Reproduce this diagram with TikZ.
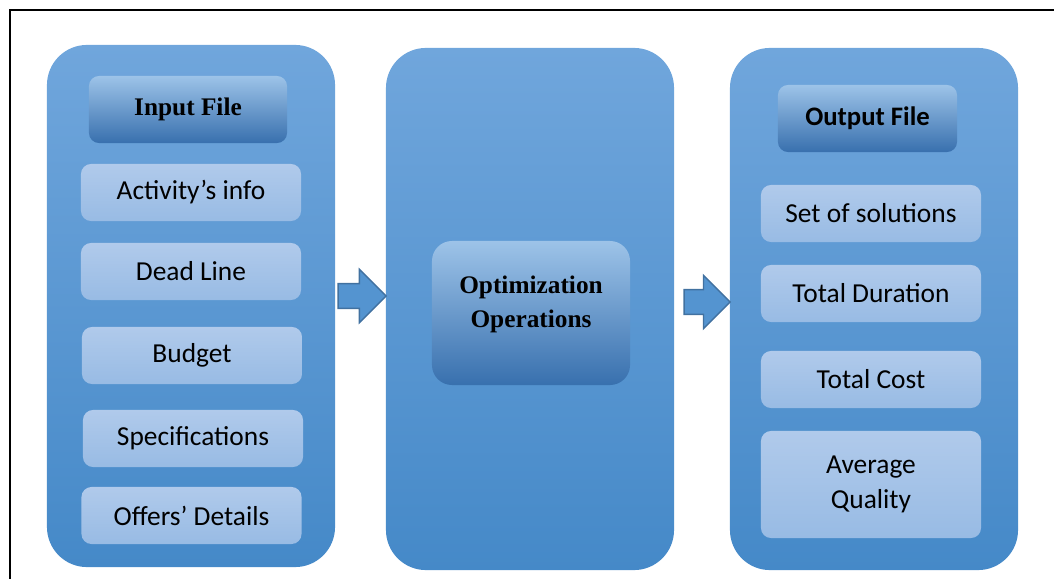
\documentclass[tikz,border=0pt]{standalone}
\usepackage{fontspec}
\setmainfont{Carlito}
\newfontfamily\headfont{Liberation Serif}
\usetikzlibrary{shapes.arrows}

\definecolor{paneltop}{RGB}{112,166,220}
\definecolor{panelbot}{RGB}{69,137,200}
\definecolor{headtop}{RGB}{157,195,232}
\definecolor{headbot}{RGB}{56,112,174}
\definecolor{itemtop}{RGB}{176,202,235}
\definecolor{itembot}{RGB}{152,187,228}
\definecolor{arrowfill}{RGB}{84,148,208}
\definecolor{arrowline}{RGB}{65,113,160}

\begin{document}
\begin{tikzpicture}[x=0.025cm,y=-0.025cm,
  panel/.style={rounded corners=1cm,top color=paneltop,bottom color=panelbot,
    minimum width=7.2cm,minimum height=13.05cm,inner sep=0pt},
  header/.style={rounded corners=0.25cm,top color=headtop,bottom color=headbot,
    minimum width=4.95cm,minimum height=1.675cm,inner sep=0pt,
    font=\bfseries\fontsize{19}{24}\selectfont},
  item/.style={rounded corners=0.25cm,top color=itemtop,bottom color=itembot,
    minimum width=5.5cm,minimum height=1.425cm,inner sep=0pt,align=center,
    font=\fontsize{19.5}{24.5}\selectfont},
  flow/.style={single arrow,fill=arrowfill,draw=arrowline,line width=1pt,
    minimum width=1.3cm,minimum height=1.2cm,inner sep=0.29cm,
    single arrow head extend=0.36cm}]
%\draw[style=help lines] (0,0) grid[step=50] (1054,579);
\useasboundingbox (0,0) rectangle (1054,579);
\draw[line width=0.05cm] (10,579) -- (10,10) -- (1054,10);

\node[panel] (inpanel) at (191,306){};
\node[panel] (optpanel) at (530,309){};
\node[panel] (outpanel) at (874,309){};

\node[header,font=\headfont\bfseries\fontsize{18}{24}\selectfont] (inhead) at (188,109.5){Input File};
\node[item] (activity) at (191,192.5){Activity’s info};
\node[item] (deadline) at (191,271.5){Dead Line};
\node[item] (budget) at (192,355.5){Budget};
\node[item] (specs) at (193,438.5){Specifications};
\node[item] (offers) at (191.5,515.5){Offers’ Details};

\node[header,minimum height=3.6cm,rounded corners=0.5cm,align=center,
  font=\headfont\bfseries\fontsize{18}{24}\selectfont,text depth=0.55cm] (opt) at (531,313){Optimization\\Operations};

\node[header,minimum width=4.475cm] (outhead) at (867.5,118.5){Output File};
\node[item] (solutions) at (871,213.5){Set of solutions};
\node[item] (duration) at (871,293.5){Total Duration};
\node[item] (cost) at (871,379.5){Total Cost};
\node[item,minimum height=2.675cm] (quality) at (871,484.5){Average\\Quality};

\node[flow] (inarrow) at (356,296){};
\node[flow,minimum height=1.15cm] (outarrow) at (701,302){};

\end{tikzpicture}
\end{document}
